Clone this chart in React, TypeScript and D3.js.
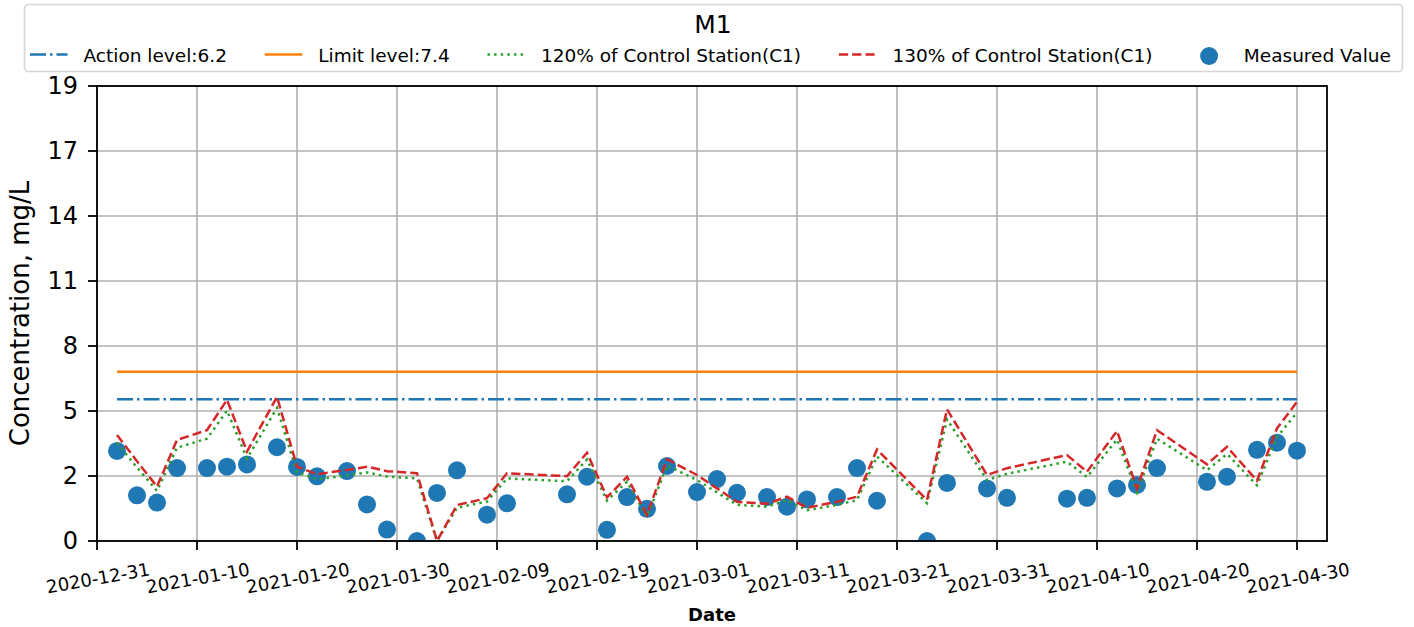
import React, { useRef, useEffect } from 'react';
import * as d3 from 'd3';

// sampling dates (Mon / Wed / Fri)
const dates = [
  '2021-01-02', '2021-01-04', '2021-01-06', '2021-01-08', '2021-01-11', '2021-01-13',
  '2021-01-15', '2021-01-18', '2021-01-20', '2021-01-22', '2021-01-25', '2021-01-27',
  '2021-01-29', '2021-02-01', '2021-02-03', '2021-02-05', '2021-02-08', '2021-02-10',
  '2021-02-16', '2021-02-18', '2021-02-20', '2021-02-22', '2021-02-24', '2021-02-26',
  '2021-03-01', '2021-03-03', '2021-03-05', '2021-03-08', '2021-03-10', '2021-03-12',
  '2021-03-15', '2021-03-17', '2021-03-19', '2021-03-24', '2021-03-26', '2021-03-30',
  '2021-04-01', '2021-04-07', '2021-04-09', '2021-04-12', '2021-04-14', '2021-04-16',
  '2021-04-21', '2021-04-23', '2021-04-26', '2021-04-28', '2021-04-30'
];

// measured value at M1
const measured = [
  3.94, 2.0, 1.68, 3.19, 3.19, 3.25,
  3.35, 4.1, 3.24, 2.83, 3.06, 1.6,
  0.5, 0.0, 2.1, 3.09, 1.15, 1.65,
  2.04, 2.81, 0.49, 1.92, 1.41, 3.28,
  2.14, 2.71, 2.11, 1.92, 1.5, 1.82,
  1.92, 3.19, 1.76, 0.0, 2.54, 2.3,
  1.89, 1.85, 1.89, 2.3, 2.45, 3.19,
  2.59, 2.81, 3.99, 4.3, 3.95
];

// control station C1
const controlC1 = [
  3.57, 2.68, 1.83, 3.4, 3.73, 4.75,
  3.01, 4.85, 2.5, 2.25, 2.39, 2.5,
  2.35, 2.28, 0.0, 1.21, 1.44, 2.28,
  2.18, 2.97, 1.47, 2.16, 0.88, 2.75,
  2.22, 1.77, 1.32, 1.25, 1.49, 1.12,
  1.32, 1.49, 3.08, 1.38, 4.43, 2.22,
  2.45, 2.89, 2.33, 3.7, 1.77, 3.73,
  2.58, 3.17, 2.03, 3.79, 4.68
];

const actionLevel = 6.2;
const limitLevel = 7.4;

const xTickLabels = [
  '2020-12-31', '2021-01-10', '2021-01-20', '2021-01-30', '2021-02-09', '2021-02-19',
  '2021-03-01', '2021-03-11', '2021-03-21', '2021-03-31', '2021-04-10', '2021-04-20', '2021-04-30'
];
const yTickLabels = ['0', '2', '5', '8', '11', '14', '17', '19'];
const yMax = 19.9;

const legendLabels = [
  'Action level:6.2',
  'Limit level:7.4',
  '120% of Control Station(C1)',
  '130% of Control Station(C1)',
  'Measured Value'
];

export default function App(): JSX.Element {
  const svgRef = useRef<SVGSVGElement>(null);

  useEffect(() => {
    if (svgRef.current == null) return;
    const svg = d3.select(svgRef.current);
    svg.selectAll('*').remove();
    const font = 'DejaVu Sans';

    const left = 97;
    const right = 1327;
    const top = 86;
    const bottom = 541;

    const lw = 2.5;
    const dashAction = [6.4, 1.6, 1, 1.6].map((d) => d * lw).join(',');
    const dashDotted = [1, 1.65].map((d) => d * lw).join(',');
    const dashDashed = [3.7, 1.6].map((d) => d * lw).join(',');

    const parse = d3.utcParse('%Y-%m-%d');
    const dateObjs = dates.map((d) => parse(d) as Date);
    const x = d3
      .scaleUtc()
      .domain([parse('2020-12-31') as Date, parse('2021-05-03') as Date])
      .range([left, right]);
    const y = d3.scaleLinear().domain([0, yMax]).range([bottom, top]);
    const yTickValues = d3.range(yTickLabels.length).map((k) => (k * yMax) / (yTickLabels.length - 1));

    svg.append('rect').attr('width', 1414).attr('height', 627).attr('fill', '#fff');

    // 网格
    const grid = svg.append('g').attr('stroke', '#b0b0b0').attr('stroke-width', 1.6);
    xTickLabels.forEach((t) => {
      const px = x(parse(t) as Date);
      grid.append('line').attr('x1', px).attr('x2', px).attr('y1', top).attr('y2', bottom);
    });
    yTickValues.forEach((v) => {
      grid.append('line').attr('x1', left).attr('x2', right).attr('y1', y(v)).attr('y2', y(v));
    });

    svg
      .append('clipPath')
      .attr('id', 'plot-clip')
      .append('rect')
      .attr('x', left)
      .attr('y', top)
      .attr('width', right - left)
      .attr('height', bottom - top);

    const plot = svg.append('g').attr('clip-path', 'url(#plot-clip)');

    // 散点
    plot
      .selectAll('circle')
      .data(measured)
      .join('circle')
      .attr('cx', (_, i) => x(dateObjs[i]))
      .attr('cy', (d) => y(d))
      .attr('r', 9)
      .attr('fill', '#1f77b4');

    const x0 = x(dateObjs[0]);
    const x1 = x(dateObjs[dateObjs.length - 1]);
    plot
      .append('line')
      .attr('x1', x0)
      .attr('x2', x1)
      .attr('y1', y(actionLevel))
      .attr('y2', y(actionLevel))
      .attr('stroke', '#1f77b4')
      .attr('stroke-width', lw)
      .attr('stroke-dasharray', dashAction);
    plot
      .append('line')
      .attr('x1', x0)
      .attr('x2', x1)
      .attr('y1', y(limitLevel))
      .attr('y2', y(limitLevel))
      .attr('stroke', '#ff7f0e')
      .attr('stroke-width', lw);

    const line = d3
      .line<number>()
      .x((_, i) => x(dateObjs[i]))
      .y((d) => y(d));

    plot
      .append('path')
      .attr('d', line(controlC1.map((v) => v * 1.2)))
      .attr('fill', 'none')
      .attr('stroke', '#2ca02c')
      .attr('stroke-width', lw)
      .attr('stroke-dasharray', dashDotted);
    plot
      .append('path')
      .attr('d', line(controlC1.map((v) => v * 1.3)))
      .attr('fill', 'none')
      .attr('stroke', '#d62728')
      .attr('stroke-width', lw)
      .attr('stroke-dasharray', dashDashed);

    // 坐标轴
    svg
      .append('rect')
      .attr('x', left)
      .attr('y', top)
      .attr('width', right - left)
      .attr('height', bottom - top)
      .attr('fill', 'none')
      .attr('stroke', '#000')
      .attr('stroke-width', 1.8);

    yTickValues.forEach((v, i) => {
      svg
        .append('line')
        .attr('x1', left - 9)
        .attr('x2', left)
        .attr('y1', y(v))
        .attr('y2', y(v))
        .attr('stroke', '#000')
        .attr('stroke-width', 1.8);
      svg
        .append('text')
        .attr('x', left - 19)
        .attr('y', y(v))
        .attr('text-anchor', 'end')
        .attr('dominant-baseline', 'central')
        .style('font-family', font)
        .style('font-size', '24px')
        .text(yTickLabels[i]);
    });

    xTickLabels.forEach((t) => {
      const px = x(parse(t) as Date);
      svg
        .append('line')
        .attr('x1', px)
        .attr('x2', px)
        .attr('y1', bottom)
        .attr('y2', bottom + 9)
        .attr('stroke', '#000')
        .attr('stroke-width', 1.8);
      const ty = 578;
      svg
        .append('text')
        .attr('x', px + 1)
        .attr('y', ty)
        .attr('text-anchor', 'middle')
        .attr('dominant-baseline', 'central')
        .attr('transform', `rotate(-10, ${px + 1}, ${ty})`)
        .style('font-family', font)
        .style('font-size', '18px')
        .text(t);
    });

    svg
      .append('text')
      .attr('x', (left + right) / 2)
      .attr('y', 621)
      .attr('text-anchor', 'middle')
      .style('font-family', font)
      .style('font-size', '18px')
      .style('font-weight', 'bold')
      .text('Date');

    svg
      .append('text')
      .attr('transform', `translate(29, ${(top + bottom) / 2}) rotate(-90)`)
      .attr('text-anchor', 'middle')
      .style('font-family', font)
      .style('font-size', '26px')
      .text('Concentration, mg/L');

    // 图例
    const lg = svg.append('g');
    lg.append('rect')
      .attr('x', 24.5)
      .attr('y', 4.5)
      .attr('width', 1378)
      .attr('height', 67)
      .attr('rx', 4)
      .attr('fill', '#fff')
      .attr('stroke', '#d6d6d6')
      .attr('stroke-width', 1.6);
    lg.append('text')
      .attr('x', 713)
      .attr('y', 33)
      .attr('text-anchor', 'middle')
      .style('font-family', font)
      .style('font-size', '25px')
      .text('M1');

    const handleLen = 37.5;
    const textPad = 16;
    const hy = 54.5;
    let cx = 30;
    legendLabels.forEach((label, i) => {
      if (i === 4) {
        lg.append('circle')
          .attr('cx', cx + handleLen / 2)
          .attr('cy', hy + 1.5)
          .attr('r', 9)
          .attr('fill', '#1f77b4');
      } else {
        const h = lg
          .append('line')
          .attr('x1', cx)
          .attr('x2', cx + handleLen)
          .attr('y1', hy)
          .attr('y2', hy)
          .attr('stroke-width', lw);
        if (i === 0) h.attr('stroke', '#1f77b4').attr('stroke-dasharray', dashAction);
        if (i === 1) h.attr('stroke', '#ff7f0e');
        if (i === 2) h.attr('stroke', '#2ca02c').attr('stroke-dasharray', dashDotted);
        if (i === 3) h.attr('stroke', '#d62728').attr('stroke-dasharray', dashDashed);
      }
      const txt = lg
        .append('text')
        .attr('x', cx + handleLen + textPad)
        .attr('y', 61.5)
        .style('font-family', font)
        .style('font-size', '18.5px')
        .text(label);
      const w = (txt.node() as SVGTextElement).getComputedTextLength();
      cx = cx + handleLen + textPad + w + 37.8;
    });
  }, []);

  return (
    <svg
      ref={svgRef}
      width={1414}
      height={627}
      style={{ position: 'absolute', left: 0, top: 0, display: 'block' }}
    />
  );
}
